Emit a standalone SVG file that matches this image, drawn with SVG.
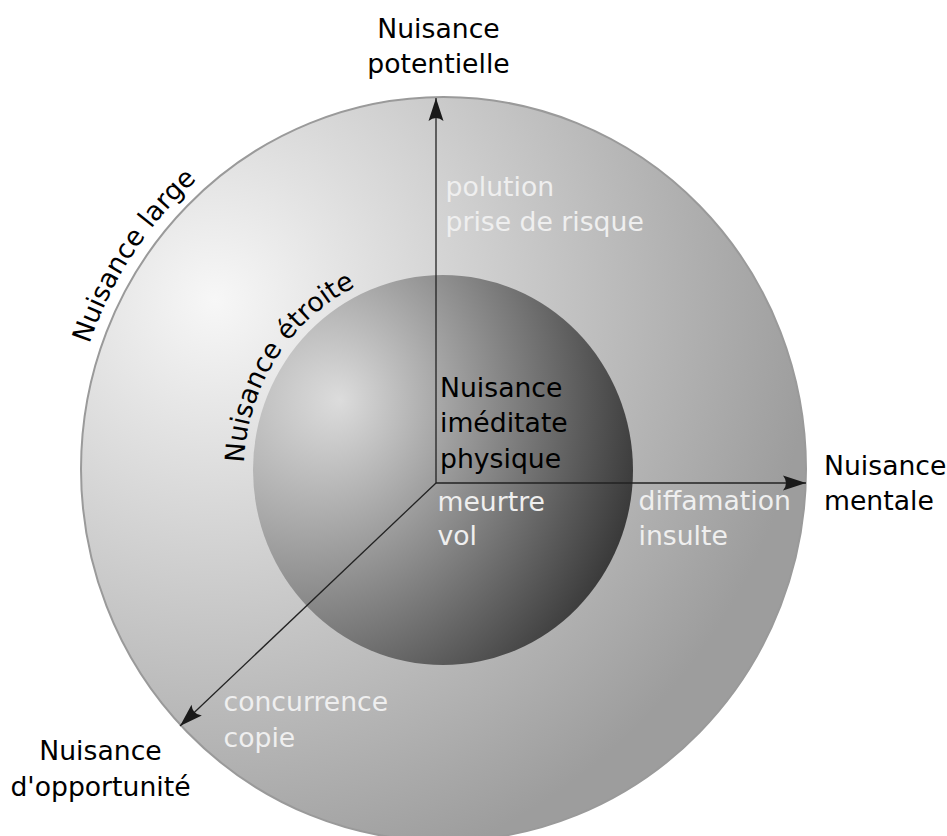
<svg xmlns="http://www.w3.org/2000/svg" width="947" height="836" viewBox="0 0 947 836">
<defs>
<radialGradient id="gOuter" gradientUnits="userSpaceOnUse" cx="215" cy="300" r="600">
<stop offset="0" stop-color="#f7f7f7"/>
<stop offset="1" stop-color="#9d9d9d"/>
</radialGradient>
<radialGradient id="gInner" gradientUnits="userSpaceOnUse" cx="243" cy="400" r="417" fx="340" fy="400">
<stop offset="0" stop-color="#dcdcdc"/>
<stop offset="1" stop-color="#323232"/>
</radialGradient>
<marker id="arr" markerUnits="userSpaceOnUse" orient="auto" refX="0" refY="0" viewBox="-24 -9 25 18" markerWidth="25" markerHeight="18">
<path d="M0,0 L-23,-7.5 Q-17,0 -23,7.5 Z" fill="#1a1a1a"/>
</marker>
<path id="pLarge" d="M 89.4 344 A 374.5 384 0 0 1 256.2 136.4"/>
<path id="pEtroite" d="M 244.1 462.9 A 199 204 0 0 1 425.7 266.8"/>
</defs>
<style>
text{font-family:"DejaVu Sans","Liberation Sans",sans-serif;font-size:26.67px}
.dark{fill:#000}
.light{fill:#efefef}
.axis{stroke:#222;stroke-width:1.3;fill:none;marker-end:url(#arr)}
</style>
<g id="outer">
<ellipse cx="443.5" cy="469" rx="362.5" ry="372" fill="url(#gOuter)" stroke="#9a9a9a" stroke-width="2"/>
<text class="dark"><textPath href="#pLarge">Nuisance large</textPath></text>
</g>
<g id="inner">
<ellipse cx="443" cy="470" rx="190" ry="195" fill="url(#gInner)"/>
<text class="dark"><textPath href="#pEtroite">Nuisance étroite</textPath></text>
</g>
<g id="connectors">
<line class="axis" x1="436" y1="483" x2="436" y2="98"/>
<line class="axis" x1="436" y1="483" x2="806" y2="483"/>
<line class="axis" x1="436" y1="483" x2="180" y2="726"/>
</g>
<g id="center-label">
<text class="dark" x="440" y="397">Nuisance</text>
<text class="dark" x="440" y="432">iméditate</text>
<text class="dark" x="440" y="468">physique</text>
</g>
<g id="physique-examples">
<text class="light" x="437.5" y="511">meurtre</text>
<text class="light" x="437.5" y="545">vol</text>
</g>
<g id="potentielle">
<text class="dark" x="438.5" y="38" text-anchor="middle">Nuisance</text>
<text class="dark" x="438.5" y="73" text-anchor="middle">potentielle</text>
</g>
<g id="potentielle-examples">
<text class="light" x="445.5" y="196">polution</text>
<text class="light" x="445.5" y="231">prise de risque</text>
</g>
<g id="mentale">
<text class="dark" x="824" y="475">Nuisance</text>
<text class="dark" x="824" y="510">mentale</text>
</g>
<g id="mentale-examples">
<text class="light" x="638.5" y="510">diffamation</text>
<text class="light" x="638.5" y="545">insulte</text>
</g>
<g id="opportunite">
<text class="dark" x="100.5" y="760" text-anchor="middle">Nuisance</text>
<text class="dark" x="100.5" y="796" text-anchor="middle">d'opportunité</text>
</g>
<g id="opportunite-examples">
<text class="light" x="223.5" y="711">concurrence</text>
<text class="light" x="223.5" y="747">copie</text>
</g>
</svg>
